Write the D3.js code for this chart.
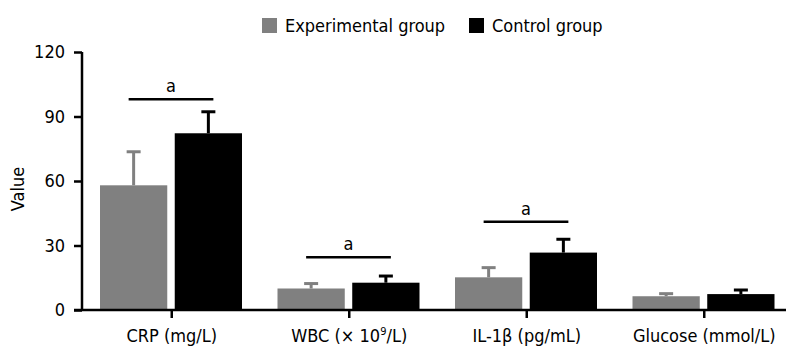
<!DOCTYPE html>
<html><head><meta charset="utf-8">
<script src="https://cdn.jsdelivr.net/npm/d3@7/dist/d3.min.js"></script>
<style>
html,body{margin:0;padding:0;background:#fff;}
svg text{font-family:"DejaVu Sans Condensed","DejaVu Sans",sans-serif;fill:#000;}
</style></head>
<body><svg id="chart" width="786" height="347"></svg>
<script>
const categories = ["CRP", "WBC", "IL-1β", "Glucose"];
const series = ["Experimental group", "Control group"];
const experimentalMean = [58, 10, 15.2, 6.4];
const experimentalSD = [15.6, 2.3, 4.5, 1.2];
const controlMean = [82.2, 12.7, 26.7, 7.4];
const controlSD = [10, 3.1, 6.2, 1.9];
const yTicks = [0, 30, 60, 90, 120];
const sigCategories = ["CRP", "WBC", "IL-1β"];
const sigLevels = [98, 24.5, 41];
const sigLabel = "a";
const colors = ["#808080", "#000000"];

const svg = d3.select("#chart");
const x0 = d3.scaleBand().domain(categories).range([83, 793]).padding(0);
const x1 = d3.scaleBand().domain(series).range([17, 159]).paddingInner(0.1);
const y = d3.scaleLinear().domain([0, 120]).range([310, 52]);

const rows = categories.map((c, i) => ({
  cat: c,
  vals: [
    {s: series[0], m: experimentalMean[i], sd: experimentalSD[i], col: colors[0]},
    {s: series[1], m: controlMean[i], sd: controlSD[i], col: colors[1]}
  ]
}));

const g = svg.append("g");
const grp = g.selectAll("g.grp").data(rows).join("g")
  .attr("transform", d => `translate(${x0(d.cat)},0)`);

// error bars (upward only)
grp.selectAll("line.err").data(d => d.vals).join("line")
  .attr("x1", d => x1(d.s) + x1.bandwidth()/2)
  .attr("x2", d => x1(d.s) + x1.bandwidth()/2)
  .attr("y1", d => y(d.m))
  .attr("y2", d => y(d.m + d.sd))
  .attr("stroke", d => d.col).attr("stroke-width", 3);
grp.selectAll("line.cap").data(d => d.vals).join("line")
  .attr("x1", d => x1(d.s) + x1.bandwidth()/2 - 7)
  .attr("x2", d => x1(d.s) + x1.bandwidth()/2 + 7)
  .attr("y1", d => y(d.m + d.sd))
  .attr("y2", d => y(d.m + d.sd))
  .attr("stroke", d => d.col).attr("stroke-width", 3);

grp.selectAll("rect").data(d => d.vals).join("rect")
  .attr("x", d => x1(d.s))
  .attr("width", x1.bandwidth())
  .attr("y", d => y(d.m))
  .attr("height", d => y(0) - y(d.m))
  .attr("fill", d => d.col);

// significance
sigCategories.forEach((c, i) => {
  const xa = x0(c) + x1(series[0]) + x1.bandwidth()/2 - 5;
  const xb = x0(c) + x1(series[1]) + x1.bandwidth()/2 + 5;
  g.append("line").attr("x1", xa).attr("x2", xb)
    .attr("y1", y(sigLevels[i])).attr("y2", y(sigLevels[i]))
    .attr("stroke", "#000").attr("stroke-width", 2.5);
  g.append("text").attr("x", (xa + xb)/2).attr("y", y(sigLevels[i]) - 7)
    .attr("text-anchor", "middle").attr("font-size", 18).text(sigLabel);
});

// y axis
const yAxis = g.append("g").attr("transform", "translate(82,0)")
  .call(d3.axisLeft(y).tickValues(yTicks).tickSize(8).tickPadding(9));
yAxis.select(".domain").attr("stroke-width", 2.5).attr("d", `M0,${y(120)}V${y(0)}`);
yAxis.selectAll(".tick line").attr("stroke-width", 2.5);
yAxis.selectAll(".tick text").attr("font-size", 18).style("font-family", null);

// x axis
const xLabels = {"CRP": "CRP (mg/L)", "WBC": "WBC", "IL-1β": "IL-1β (pg/mL)", "Glucose": "Glucose (mmol/L)"};
const xAxis = g.append("g").attr("transform", "translate(0,310)")
  .call(d3.axisBottom(x0).tickSize(8).tickPadding(11).tickFormat(d => xLabels[d]));
xAxis.select(".domain").attr("stroke-width", 2.5).attr("d", "M74,0H786");
xAxis.selectAll(".tick line").attr("stroke-width", 2.5);
xAxis.selectAll(".tick text").attr("font-size", 18).style("font-family", null);
xAxis.selectAll(".tick text").filter(d => d === "WBC").each(function() {
  const t = d3.select(this).text("");
  t.append("tspan").text("WBC (× 10");
  t.append("tspan").attr("font-size", 11).attr("dy", "-0.6em").text("9");
  t.append("tspan").attr("dy", "0.4em").text("/L)");
});

// y label
svg.append("text").attr("transform", "translate(24,189) rotate(-90)")
  .attr("text-anchor", "middle").attr("font-size", 18).text("Value");

// legend
const leg = svg.append("g");
const legX = [262, 469];
series.forEach((s, i) => {
  leg.append("rect").attr("x", legX[i]).attr("y", 18).attr("width", 15).attr("height", 15).attr("fill", colors[i]);
  leg.append("text").attr("x", legX[i] + 23).attr("y", 32).attr("font-size", 18).text(s);
});
</script></body></html>
